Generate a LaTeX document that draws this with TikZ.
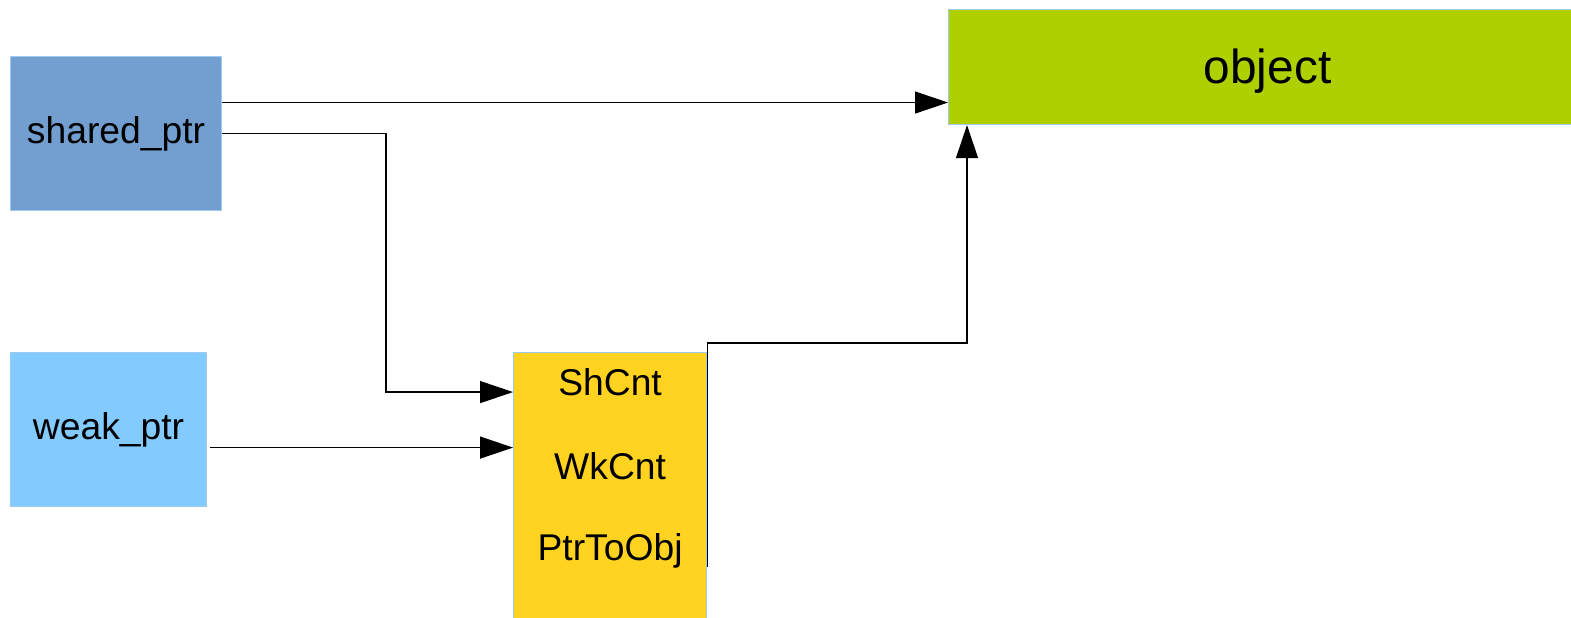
\documentclass[tikz,border=0pt]{standalone}
\usepackage{fontspec}
\setmainfont{Liberation Sans}
\usetikzlibrary{positioning,arrows.meta}
\definecolor{sharedblue}{HTML}{729FCF}
\definecolor{weakblue}{HTML}{83CAFF}
\definecolor{cntyellow}{HTML}{FFD320}
\definecolor{objgreen}{HTML}{AECF00}
\definecolor{boxline}{HTML}{9CCBF2}

\begin{document}
\begin{tikzpicture}[
		>={Triangle[length=3.3mm,width=2.2mm]},
		every node/.append style={
			inner sep=0pt,
			font=\fontsize{10.6}{12.6}\selectfont,
		},
		ptrbox/.style={draw=boxline,line width=.3pt,minimum height=1.54cm},
		txt/.style={anchor=center},
		link/.style={->,line width=.35pt},
	]
	\useasboundingbox (0,0) rectangle (15.71,6.17);
	% the pointers on the left
	\node[ptrbox,fill=sharedblue,minimum width=2.11cm,anchor=north west] (shared) at (0.10,5.61) {shared\_ptr};
	\node[ptrbox,fill=weakblue,minimum width=1.96cm] (weak) [below=1.41cm of shared.south west,anchor=north west] {weak\_ptr};
	% the control block
	\node[ptrbox,fill=cntyellow,minimum width=1.93cm,minimum height=2.80cm] (counter) [right=3.06cm of weak.north east,anchor=north west] {};
	\node[txt] (shcnt) at ([yshift=-.30cm]counter.north) {ShCnt};
	\node[txt] (wkcnt) at ([yshift=-1.14cm]counter.north) {WkCnt};
	\node[txt] (ptrtoobj) at ([yshift=-1.99cm]counter.north) {PtrToObj};
	% the object
	\node[ptrbox,fill=objgreen,minimum width=6.32cm,minimum height=1.15cm,anchor=north west] (object) at (9.48,6.08) {};
	\node[txt,font=\fontsize{13.6}{16}\selectfont] (objtext) at ([xshift=.03cm,yshift=-.04cm]object.center) {object};
	% draw the connection lines
	\coordinate (sharedtop) at ([yshift=.31cm]shared.east);
	\coordinate (shin) at ([yshift=-.40cm]counter.north west);
	\coordinate (weakout) at ([xshift=.03cm,yshift=-.18cm]weak.east);
	\coordinate (objout) at ([yshift=-2.15cm]counter.north east);
	\draw[link] (sharedtop) -- (sharedtop -| object.west);
	\draw[link] (shared.east) -- ++(1.64,0) |- (shin);
	\draw[link] (weakout) -- (weakout -| counter.west);
	\draw[link] (objout) -- ++(0,2.24) -| ([xshift=.19cm]object.south west);
\end{tikzpicture}
\end{document}
